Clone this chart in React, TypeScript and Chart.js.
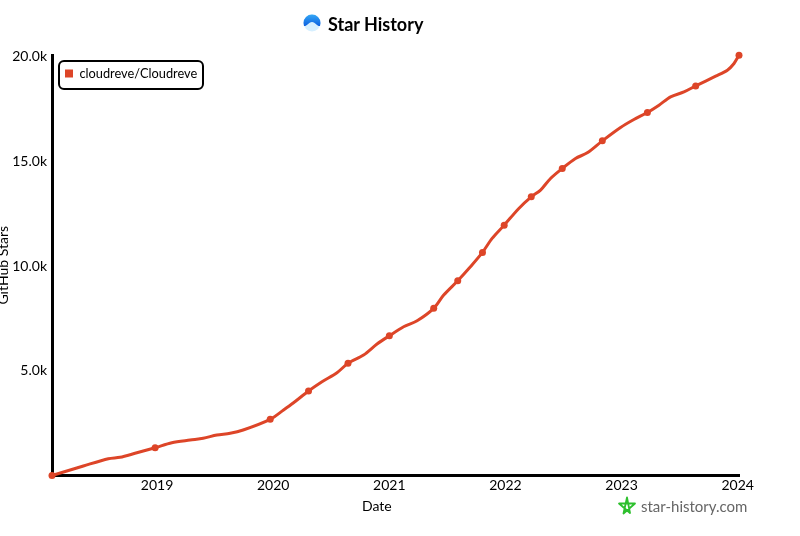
import React, { useEffect, useRef } from "react";
import { Chart, registerables } from "chart.js";

Chart.register(...registerables);

const seriesLabel = "cloudreve/Cloudreve";
const years = [
  2018.095, 2018.365, 2018.58, 2018.681, 2018.81, 2018.983, 2019.127, 2019.284, 2019.397, 2019.515,
  2019.629, 2019.741, 2019.974, 2020.089, 2020.172, 2020.304, 2020.42, 2020.549, 2020.644, 2020.778,
  2020.894, 2021.0, 2021.123, 2021.239, 2021.382, 2021.468, 2021.589, 2021.698, 2021.802, 2021.885,
  2021.989, 2022.115, 2022.222, 2022.302, 2022.388, 2022.489, 2022.603, 2022.704, 2022.834, 2022.991,
  2023.106, 2023.222, 2023.322, 2023.422, 2023.537, 2023.638, 2023.81, 2023.911, 2023.968, 2024.011,
];
const stars = [
  0, 453, 802, 869, 1060, 1327, 1566, 1694, 1776, 1933,
  2014, 2172, 2682, 3126, 3460, 4033, 4477, 4907, 5355, 5752,
  6277, 6673, 7102, 7389, 7981, 8615, 9298, 9966, 10653, 11322,
  11956, 12753, 13307, 13627, 14185, 14663, 15140, 15408, 15981, 16620,
  17001, 17335, 17684, 18080, 18318, 18605, 19068, 19355, 19675, 20070,
];
const markedYears = [
  2018.095, 2018.983, 2019.974, 2020.304, 2020.644, 2021.0, 2021.382, 2021.589,
  2021.802, 2021.989, 2022.222, 2022.489, 2022.834, 2023.222, 2023.638, 2024.011,
];
const yearTicks = [2019, 2020, 2021, 2022, 2023, 2024];
const starTicks = [5000, 10000, 15000, 20000];

const FONT = "Lato, 'Open Sans', sans-serif";
const RED = "#dd4528";

const legendBox = {
  id: "legendBox",
  afterLayout(chart: any) {
    const l = chart.legend;
    const w = l.width;
    const h = l.height;
    l.left = 59;
    l.right = 59 + w;
    l.top = 61;
    l.bottom = 61 + h;
  },
  afterDraw(chart: any) {
    const ctx = chart.ctx;
    ctx.save();
    ctx.strokeStyle = "#000";
    ctx.lineWidth = 2;
    ctx.beginPath();
    ctx.roundRect(59, 61, 144, 28, 5);
    ctx.stroke();
    ctx.restore();
  },
};

export default function App() {
  const ref = useRef<HTMLCanvasElement | null>(null);
  useEffect(() => {
    const chart = new Chart(ref.current as HTMLCanvasElement, {
      type: "line",
      data: {
        datasets: [
          {
            label: seriesLabel,
            data: years.map((x, i) => ({ x, y: stars[i] })),
            borderColor: RED,
            backgroundColor: RED,
            borderWidth: 3,
            tension: 0.3,
            clip: false,
            pointRadius: (c: any) => (markedYears.includes(years[c.dataIndex]) ? 3.5 : 0),
            pointBorderWidth: 0,
          },
        ],
      },
      plugins: [legendBox],
      options: {
        responsive: false,
        animation: false,
        layout: { padding: { top: 55, right: 61, left: 0, bottom: 0 } },
        plugins: {
          tooltip: { enabled: false },
          title: { display: false },
          legend: {
            position: "chartArea" as any,
            align: "start",
            labels: {
              usePointStyle: true,
              pointStyle: "rect",
              pointStyleWidth: 8,
              boxWidth: 8,
              boxHeight: 8,
              padding: 6,
              color: "#000",
              font: { family: FONT, size: 12.8 },
            },
          },
        },
        scales: {
          x: {
            type: "linear",
            min: years[0],
            max: years[years.length - 1],
            afterBuildTicks: (a: any) => {
              a.ticks = yearTicks.map((value) => ({ value }));
            },
            afterFit: (a: any) => {
              a.height = 60.5;
            },
            grid: { display: false, drawTicks: false },
            border: { display: true, color: "#000", width: 3 },
            ticks: {
              autoSkip: false,
              maxRotation: 0,
              padding: 2,
              color: "#000",
              font: { family: FONT, size: 14 },
              callback: (v: any) => String(v),
            },
          },
          y: {
            type: "linear",
            min: 0,
            max: 20080,
            afterBuildTicks: (a: any) => {
              a.ticks = starTicks.map((value) => ({ value }));
            },
            afterFit: (a: any) => {
              a.width = 52;
            },
            grid: { display: false, drawTicks: false },
            border: { display: true, color: "#000", width: 3 },
            ticks: {
              padding: 5,
              color: "#000",
              font: { family: FONT, size: 14 },
              callback: (v: any) => (Number(v) / 1000).toFixed(1) + "k",
            },
            title: {
              display: true,
              text: "GitHub Stars",
              color: "#000",
              font: { family: FONT, size: 14 },
              padding: { top: -5, bottom: 0 },
            },
          },
        },
      },
    });
    return () => chart.destroy();
  }, []);

  return (
    <div style={{ position: "absolute", left: 0, top: 0, width: 800, height: 536, overflow: "hidden", background: "#fff" }}>
      <canvas ref={ref} width={800} height={536} style={{ display: "block" }} />
      <svg width="20" height="20" viewBox="0 0 20 20" style={{ position: "absolute", left: 302, top: 13 }}>
        <defs>
          <linearGradient id="lg" x1="0" y1="0" x2="0" y2="1">
            <stop offset="0" stopColor="#35a8f5" />
            <stop offset="1" stopColor="#0b5fe0" />
          </linearGradient>
        </defs>
        <circle cx="10" cy="10" r="8.5" fill="#d6efff" />
        <path d="M1.5 10 A8.5 8.5 0 0 1 18.5 10 L18 13 C15.5 13.5 13.5 9.5 10 9 C6.5 9.5 4.5 13.5 2 13 Z" fill="url(#lg)" />
      </svg>
      <div style={{ position: "absolute", left: 328, top: 13, font: `bold 18px ${FONT}`, color: "#000", lineHeight: "22px", whiteSpace: "nowrap" }}>
        Star History
      </div>
      <div style={{ position: "absolute", left: 362, top: 497, font: `14px ${FONT}`, color: "#000", lineHeight: "18px", whiteSpace: "nowrap" }}>
        Date
      </div>
      <svg width="20" height="20" viewBox="0 0 20 20" style={{ position: "absolute", left: 617, top: 496 }}>
        <path d="M10 1.5 L13 17 L2 7.5 L18 7.5 L6.5 17.5 Z" fill="none" stroke="#2ec02e" strokeWidth="1.8" strokeLinejoin="round" />
      </svg>
      <div style={{ position: "absolute", left: 641, top: 497, font: `15px ${FONT}`, color: "#666", lineHeight: "18px", whiteSpace: "nowrap" }}>
        star-history.com
      </div>
    </div>
  );
}
